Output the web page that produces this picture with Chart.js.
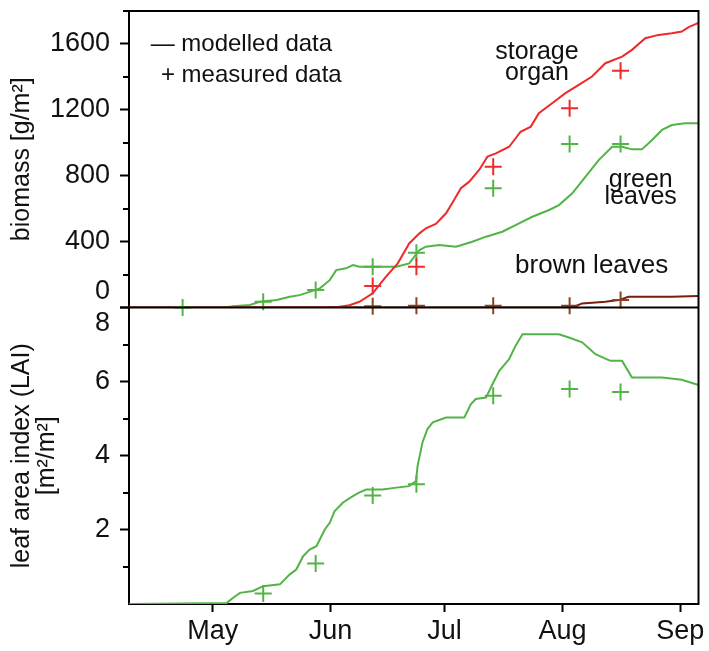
<!DOCTYPE html>
<html><head><meta charset="utf-8">
<script src="https://cdn.jsdelivr.net/npm/chart.js@4.4.0/dist/chart.umd.min.js"></script>
<style>html,body{margin:0;padding:0;background:#fff}canvas{display:block}</style>
</head><body>
<canvas id="c" width="709" height="651"></canvas>
<script>
// ---- x axis (day of year) ----
const monthDays = [121, 152, 182, 213, 244];
const monthLabels = ['May', 'Jun', 'Jul', 'Aug', 'Sep'];
const biomassTickValues = [0, 200, 400, 600, 800, 1000, 1200, 1400, 1600, 1800];
const laiTickValues = [0, 1, 2, 3, 4, 5, 6, 7, 8];

// ---- modelled: storage organ biomass [g/m2] ----
const storageDays  = [99, 150, 154, 157, 159.6, 163.1, 166.6, 169.7, 172.7, 175.4, 177.1, 179.7, 182.4, 184.5, 186.3, 188.5, 191.1, 193.3, 195.5, 199.0, 202.0, 204.7, 206.8, 210.3, 213.8, 217.3, 220.8, 224.3, 228.7, 231.3, 234.8, 238.3, 241.8, 244.4, 246.2, 248.8];
const storageModel = [0, 0, 3, 14, 35, 86, 187, 268, 389, 450, 481, 507, 572, 652, 724, 764, 835, 916, 936, 976, 1067, 1098, 1179, 1240, 1301, 1352, 1402, 1483, 1523, 1564, 1635, 1655, 1665, 1675, 1702, 1728];

// ---- modelled: green leaves biomass [g/m2] ----
const greenDays  = [99, 124, 126.4, 130.8, 133.4, 137.8, 141.3, 143.9, 146.5, 149.2, 151.8, 153.5, 156.1, 157.9, 159.6, 163.1, 169.3, 172.7, 175.4, 177.1, 180.6, 185.0, 189.3, 192.9, 197.2, 201.6, 205.1, 209.5, 212.1, 215.6, 219.1, 222.6, 226.1, 228.7, 231.3, 233.9, 236.6, 239.2, 241.8, 245.3, 248.8];
const greenModel = [0, 0, 8, 15, 35, 45, 65, 75, 95, 116, 166, 227, 238, 258, 247, 247, 247, 268, 349, 369, 379, 369, 399, 430, 460, 511, 551, 592, 622, 693, 794, 896, 976, 976, 960, 960, 1017, 1078, 1108, 1118, 1118];

// ---- modelled: brown leaves biomass [g/m2] ----
const brownDays  = [99, 215.6, 218.2, 224.3, 227.8, 230.4, 241.8, 248.8];
const brownModel = [0, 0, 25, 35, 45, 65, 65, 70];

// ---- modelled: LAI [m2/m2] ----
const laiDays  = [99, 124.7, 126.4, 128.2, 131.6, 134.3, 138.7, 141.3, 143.0, 144.8, 146.5, 148.3, 150.5, 151.8, 153.1, 155.3, 157.9, 159.6, 161.4, 165.7, 169.3, 172.7, 174.5, 174.9, 176.2, 177.5, 178.9, 182.4, 187.2, 188.9, 190.2, 192.9, 194.6, 196.4, 199.0, 200.7, 202.5, 212.1, 214.7, 218.2, 221.7, 225.6, 228.7, 231.3, 239.2, 244.4, 248.8];
const laiModel = [0, 0.03, 0.17, 0.30, 0.35, 0.48, 0.53, 0.80, 0.93, 1.29, 1.47, 1.56, 2.01, 2.19, 2.51, 2.74, 2.91, 3.01, 3.09, 3.09, 3.14, 3.18, 3.32, 3.72, 4.36, 4.72, 4.90, 5.03, 5.03, 5.39, 5.53, 5.57, 5.93, 6.29, 6.61, 6.97, 7.28, 7.28, 7.19, 7.06, 6.74, 6.56, 6.56, 6.11, 6.11, 6.05, 5.91];

// ---- measured data ----
const greenMeasDays = [113.1, 134.3, 148.1, 163.1, 174.6, 194.8, 214.9, 228.3];
const greenMeas     = [0, 35, 106, 247, 332, 724, 993, 993];
const storageMeasDays = [163.1, 174.6, 194.8, 214.9, 228.3];
const storageMeas     = [130, 247, 855, 1210, 1438];
const brownMeasDays = [163.1, 174.6, 194.8, 214.9, 228.3];
const brownMeas     = [8, 10, 10, 10, 45];
const laiMeasDays = [134.3, 148.1, 163.1, 174.6, 194.8, 214.9, 228.3];
const laiMeas     = [0.28, 1.09, 2.93, 3.23, 5.62, 5.80, 5.72];

const FONT = '"Liberation Sans", Arial, Helvetica, sans-serif';
const RED = '#ee2a2a', GREEN = '#52b447', BROWN = '#7a1e0e', BROWNP = '#8a4322';
const pts = (xs, ys) => xs.map((x, i) => ({x, y: ys[i]}));

function lineDS(label, xs, ys, color, axis) {
  return {label, data: pts(xs, ys), yAxisID: axis, borderColor: color, borderWidth: 2,
    pointRadius: 0, tension: 0, fill: false};
}
function measDS(label, xs, ys, color, axis) {
  return {label, data: pts(xs, ys), yAxisID: axis, showLine: false, pointStyle: 'cross',
    pointRadius: 8.5, pointBorderWidth: 2, borderColor: color, backgroundColor: color, clip: false};
}
function noPad(s) { s.paddingTop = 0; s.paddingBottom = 0; s.paddingLeft = 0; s.paddingRight = 0; }

// text annotations (placed in data coordinates of the biomass panel)
const notes = [
  {text: 'storage', x: 206.3, y: 1548, size: 25, align: 'center'},
  {text: 'organ', x: 206.3, y: 1420, size: 25, align: 'center'},
  {text: 'green', x: 233.6, y: 776, size: 25, align: 'center'},
  {text: 'leaves', x: 233.6, y: 672, size: 25, align: 'center'},
  {text: 'brown leaves', x: 220.7, y: 252, size: 26, align: 'center'},
  {text: '\u2014 modelled data', x: 104.7, y: 1600, size: 24, align: 'left'},
  {text: '+ measured data', x: 107.4, y: 1408, size: 24, align: 'left'}
];

const framePlugin = {
  id: 'frame',
  afterDraw(chart) {
    const {ctx, chartArea: a, scales} = chart;
    ctx.save();
    ctx.strokeStyle = '#000'; ctx.lineWidth = 2; ctx.lineCap = 'square';
    ctx.beginPath();
    ctx.moveTo(a.left, a.top); ctx.lineTo(a.right, a.top); ctx.lineTo(a.right, a.bottom);
    const sep = scales.yTop.bottom;
    ctx.moveTo(a.left, sep); ctx.lineTo(a.right, sep);
    ctx.stroke();
    // minor ticks
    ctx.lineCap = 'butt';
    ctx.beginPath();
    biomassTickValues.forEach(v => {
      if (v % 400 === 200) { const y = Math.round(scales.yTop.getPixelForValue(v)); ctx.moveTo(a.left - 6, y); ctx.lineTo(a.left, y); }
    });
    laiTickValues.forEach(v => {
      if (v % 2 === 1) { const y = Math.round(scales.yBot.getPixelForValue(v)); ctx.moveTo(a.left - 6, y); ctx.lineTo(a.left, y); }
    });
    ctx.stroke();
    // notes
    ctx.fillStyle = '#111'; ctx.textBaseline = 'middle';
    notes.forEach(n => {
      ctx.font = n.size + 'px ' + FONT;
      ctx.textAlign = n.align;
      ctx.fillText(n.text, scales.x.getPixelForValue(n.x), scales.yTop.getPixelForValue(n.y));
    });
    ctx.restore();
  }
};

new Chart(document.getElementById('c'), {
  type: 'line',
  data: {
    datasets: [
      measDS('storage organ (measured)', storageMeasDays, storageMeas, RED, 'yTop'),
      measDS('green leaves (measured)', greenMeasDays, greenMeas, GREEN, 'yTop'),
      measDS('brown leaves (measured)', brownMeasDays, brownMeas, BROWNP, 'yTop'),
      measDS('LAI (measured)', laiMeasDays, laiMeas, GREEN, 'yBot'),
      lineDS('storage organ', storageDays, storageModel, RED, 'yTop'),
      lineDS('green leaves', greenDays, greenModel, GREEN, 'yTop'),
      lineDS('brown leaves', brownDays, brownModel, BROWN, 'yTop'),
      lineDS('LAI', laiDays, laiModel, GREEN, 'yBot')
    ]
  },
  options: {
    responsive: false,
    animation: false,
    devicePixelRatio: 1,
    layout: {padding: {top: 11, right: 9, left: 0, bottom: 0}},
    plugins: {legend: {display: false}, tooltip: {enabled: false}},
    scales: {
      x: {
        type: 'linear', min: 99, max: 248.8, position: 'bottom',
        afterBuildTicks: s => { s.ticks = monthDays.map(v => ({value: v})); },
        afterFit: s => { s.height = 47; noPad(s); },
        grid: {drawOnChartArea: false, drawTicks: true, tickLength: 8, tickWidth: 2, tickColor: '#000'},
        border: {display: true, color: '#000', width: 2},
        ticks: {autoSkip: false, maxRotation: 0, padding: 3, color: '#111',
          font: {family: FONT, size: 27},
          callback: v => monthLabels[monthDays.indexOf(v)] || ''}
      },
      yBot: {
        type: 'linear', position: 'left', stack: 'panels', stackWeight: 1, weight: 0,
        min: 0, max: 8,
        afterBuildTicks: s => { s.ticks = laiTickValues.map(v => ({value: v})); },
        afterFit: s => { s.width = 129; noPad(s); },
        grid: {drawOnChartArea: false, tickLength: 9, tickWidth: 2,
          tickColor: c => (c.tick && c.tick.value % 2 === 0 && c.tick.value > 0) ? '#000' : 'rgba(0,0,0,0)'},
        border: {display: true, color: '#000', width: 2},
        ticks: {autoSkip: false, padding: 10, color: '#111', font: {family: FONT, size: 27},
          callback: v => v === 8 ? ['', '8'] : (v % 2 === 0 && v > 0 ? String(v) : '')},
        title: {display: true, text: ['leaf area index (LAI)', '[m\u00b2/m\u00b2]'], color: '#111',
          font: {family: FONT, size: 25, lineHeight: 1.02}, padding: {top: 9, bottom: 0}}
      },
      yTop: {
        type: 'linear', position: 'left', stack: 'panels', stackWeight: 1, weight: 1,
        min: 0, max: 1800,
        afterBuildTicks: s => { s.ticks = biomassTickValues.map(v => ({value: v})); },
        afterFit: s => { s.width = 129; noPad(s); },
        grid: {drawOnChartArea: false, tickLength: 9, tickWidth: 2,
          tickColor: c => (c.tick && c.tick.value % 400 === 0 && c.tick.value < 1800) ? '#000' : 'rgba(0,0,0,0)'},
        border: {display: true, color: '#000', width: 2},
        ticks: {autoSkip: false, padding: 10, color: '#111', font: {family: FONT, size: 27},
          callback: v => v === 0 ? ['0', ''] : (v % 400 === 0 && v < 1800 ? String(v) : '')},
        title: {display: true, text: 'biomass [g/m\u00b2]', color: '#111',
          font: {family: FONT, size: 25, lineHeight: 1.02}, padding: {top: 9, bottom: 0}}
      }
    }
  },
  plugins: [framePlugin]
});
</script>
</body></html>
